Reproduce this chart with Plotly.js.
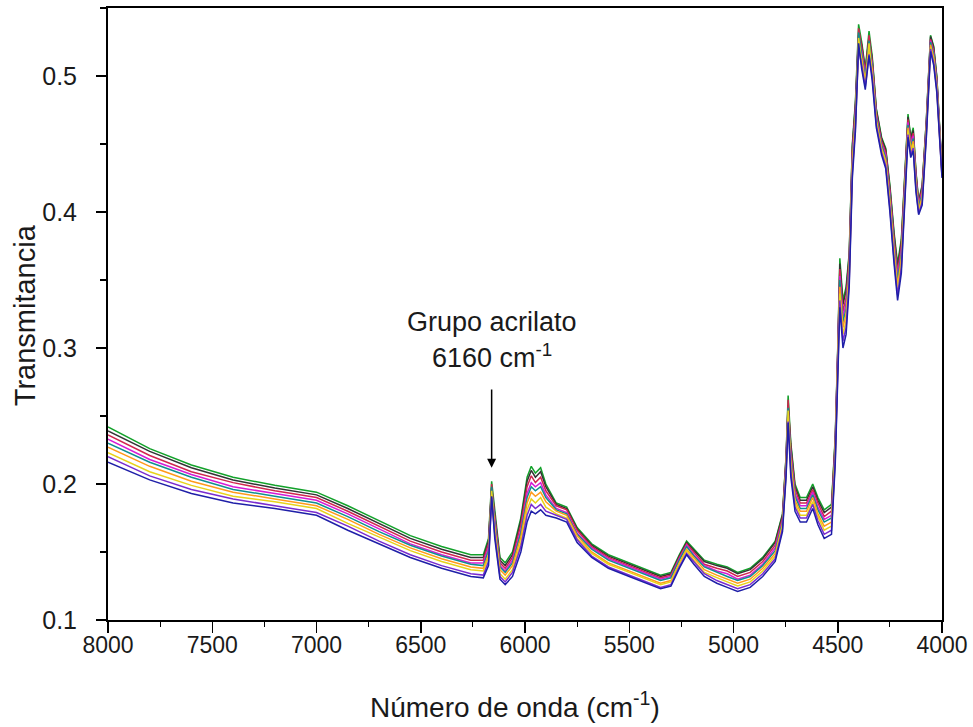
<!DOCTYPE html>
<html>
<head>
<meta charset="utf-8">
<script src="https://cdn.plot.ly/plotly-3.0.1.min.js"></script>
<style>html,body{margin:0;padding:0;background:#fff;}#chart{width:973px;height:727px;}</style>
</head>
<body>
<div id="chart"></div>
<script>
// Wavenumber (cm^-1) shared by all spectra
const wavenumber = [8000,7800,7600,7400,7200,7000,6850,6700,6550,6400,
  6260,6200,6175,6160,6145,6120,6095,6060,6020,5990,
  5970,5950,5925,5900,5850,5800,5750,5680,5600,5500,
  5420,5350,5300,5260,5225,5190,5140,5080,5030,4980,
  4920,4860,4800,4765,4748,4738,4725,4705,4680,4650,
  4620,4595,4565,4530,4512,4500,4490,4475,4460,4445,
  4430,4415,4400,4385,4368,4350,4335,4315,4290,4270,
  4250,4230,4213,4195,4175,4163,4150,4138,4125,4112,
  4095,4075,4055,4040,4025,4010,4000];

const spectrum1 = [.242,.226,.214,.205,.199,.194,.184,.173,.162,.154,
  .148,.148,.160,.202,.180,.146,.142,.150,.175,.205,
  .213,.208,.212,.200,.186,.183,.168,.156,.148,.142,
  .137,.133,.135,.148,.158,.152,.144,.141,.139,.135,
  .138,.146,.158,.178,.220,.265,.230,.200,.190,.190,
  .200,.190,.181,.185,.235,.300,.366,.335,.345,.370,
  .450,.482,.538,.525,.505,.533,.515,.476,.455,.447,
  .420,.385,.362,.380,.440,.472,.455,.462,.430,.408,
  .420,.468,.530,.522,.500,.455,.432];
const spectrum2 = [.239,.224,.212,.203,.197,.192,.182,.171,.160,.152,
  .146,.146,.158,.197,.178,.144,.140,.148,.173,.202,
  .210,.205,.209,.198,.185,.182,.167,.155,.147,.141,
  .136,.132,.134,.147,.157,.151,.143,.140,.138,.134,
  .137,.145,.157,.177,.219,.258,.228,.198,.188,.188,
  .198,.188,.179,.183,.233,.298,.362,.332,.342,.368,
  .448,.480,.530,.523,.504,.528,.513,.475,.454,.446,
  .418,.383,.359,.378,.438,.470,.454,.460,.429,.407,
  .419,.467,.529,.521,.499,.454,.431];
const spectrum3 = [.236,.221,.209,.201,.195,.190,.180,.169,.158,.150,
  .144,.144,.156,.200,.176,.142,.138,.146,.170,.198,
  .206,.201,.205,.195,.184,.181,.166,.154,.146,.140,
  .135,.131,.133,.146,.156,.150,.141,.138,.136,.132,
  .135,.143,.155,.175,.217,.262,.225,.196,.186,.186,
  .196,.186,.176,.180,.231,.296,.358,.327,.337,.365,
  .445,.477,.535,.521,.502,.530,.511,.473,.452,.444,
  .416,.380,.356,.375,.436,.468,.452,.458,.427,.406,
  .417,.465,.527,.519,.497,.453,.430];
const spectrum4 = [.233,.218,.207,.198,.193,.188,.178,.167,.156,.148,
  .142,.142,.153,.194,.173,.140,.136,.144,.166,.193,
  .201,.198,.201,.192,.182,.179,.164,.153,.145,.139,
  .134,.130,.132,.145,.155,.148,.140,.136,.134,.130,
  .133,.141,.153,.173,.215,.252,.221,.193,.184,.184,
  .194,.183,.174,.177,.228,.293,.353,.323,.333,.361,
  .441,.474,.526,.518,.500,.522,.509,.471,.450,.442,
  .413,.377,.353,.371,.433,.466,.450,.456,.425,.405,
  .415,.463,.526,.517,.496,.452,.430];
const spectrum5 = [.230,.216,.205,.196,.191,.186,.176,.165,.155,.147,
  .141,.140,.151,.198,.171,.139,.135,.142,.164,.190,
  .198,.195,.198,.190,.181,.178,.163,.152,.144,.138,
  .133,.129,.131,.144,.154,.147,.139,.135,.132,.129,
  .132,.140,.151,.172,.213,.256,.219,.191,.182,.182,
  .192,.181,.172,.175,.226,.291,.350,.319,.329,.359,
  .439,.472,.532,.516,.498,.526,.507,.470,.449,.440,
  .411,.375,.350,.369,.431,.464,.448,.454,.423,.404,
  .413,.462,.525,.516,.495,.451,.429];
const spectrum6 = [.227,.213,.202,.194,.189,.184,.174,.163,.153,.145,
  .139,.138,.148,.192,.168,.137,.133,.140,.161,.186,
  .194,.191,.194,.187,.180,.177,.162,.150,.142,.136,
  .131,.127,.129,.142,.152,.146,.137,.133,.130,.127,
  .130,.138,.149,.170,.211,.248,.216,.188,.180,.180,
  .190,.178,.169,.172,.223,.288,.345,.315,.325,.356,
  .436,.469,.522,.513,.496,.518,.505,.468,.447,.438,
  .408,.372,.346,.366,.428,.462,.446,.452,.421,.402,
  .411,.460,.523,.514,.493,.449,.428];
const spectrum7 = [.223,.209,.199,.191,.187,.182,.171,.161,.151,.143,
  .137,.136,.146,.195,.166,.134,.130,.137,.157,.181,
  .189,.186,.190,.183,.178,.175,.160,.149,.141,.135,
  .130,.126,.128,.141,.151,.144,.135,.131,.128,.125,
  .128,.136,.147,.169,.209,.254,.212,.186,.177,.177,
  .187,.176,.166,.169,.221,.286,.340,.310,.320,.352,
  .432,.466,.528,.511,.494,.524,.502,.466,.446,.436,
  .406,.368,.343,.362,.426,.460,.444,.450,.419,.401,
  .409,.459,.521,.512,.491,.448,.427];
const spectrum8 = [.220,.206,.196,.189,.184,.179,.169,.158,.148,.140,
  .134,.133,.143,.190,.163,.132,.128,.135,.154,.177,
  .185,.182,.185,.180,.177,.174,.159,.147,.139,.133,
  .128,.124,.126,.139,.149,.143,.134,.129,.126,.123,
  .126,.134,.145,.167,.207,.246,.209,.183,.175,.175,
  .185,.173,.163,.166,.218,.283,.335,.305,.315,.349,
  .429,.463,.520,.508,.492,.516,.500,.464,.444,.434,
  .403,.365,.339,.359,.423,.457,.442,.447,.417,.399,
  .407,.457,.520,.510,.490,.446,.426];
const spectrum9 = [.216,.203,.193,.186,.182,.177,.166,.156,.146,.138,
  .132,.131,.140,.191,.160,.130,.126,.132,.150,.172,
  .180,.178,.181,.177,.175,.172,.157,.146,.138,.132,
  .127,.123,.125,.138,.148,.141,.132,.127,.124,.121,
  .124,.132,.143,.165,.205,.245,.205,.180,.172,.172,
  .182,.170,.160,.163,.215,.280,.330,.300,.310,.345,
  .425,.460,.524,.505,.490,.515,.497,.462,.442,.432,
  .400,.362,.335,.355,.420,.455,.440,.445,.415,.398,
  .405,.455,.518,.508,.488,.445,.425];

const spectra = [spectrum1,spectrum2,spectrum3,spectrum4,spectrum5,spectrum6,spectrum7,spectrum8,spectrum9];
const colors = ['#12a12a','#333333','#d0264f','#d61bd6','#0f8f8f','#ff9a1a','#e8d21a','#7a2ccf','#1f1fa8'];

const xTickVals = [8000,7500,7000,6500,6000,5500,5000,4500,4000];
const yTickVals = [0.1,0.2,0.3,0.4,0.5];

const traces = spectra.map((ys, i) => ({
  type: 'scatter', mode: 'lines', x: wavenumber, y: ys,
  line: {color: colors[i], width: 1.5}, showlegend: false, hoverinfo: 'skip'
}));
// empty trace that only carries the tick overlay axis
traces.push({type: 'scatter', mode: 'lines', x: [], y: [], xaxis: 'x2', yaxis: 'y', showlegend: false, hoverinfo: 'skip'});

const FONT = 'Liberation Sans, Arial, sans-serif';

const layout = {
  width: 973, height: 727,
  margin: {l: 108, r: 31, t: 8, b: 107},
  paper_bgcolor: '#fff', plot_bgcolor: '#fff',
  font: {family: FONT, color: '#1a1a1a', size: 22},
  xaxis: {
    range: [8000, 4000], tickvals: xTickVals, ticktext: xTickVals.map(String),
    showgrid: false, zeroline: false, showline: true, linecolor: '#000', linewidth: 2, mirror: true,
    ticks: 'outside', ticklen: 3, tickwidth: 1.5, tickcolor: '#000',
    tickfont: {size: 23, family: FONT},
    automargin: false
  },
  xaxis2: {
    overlaying: 'x', anchor: 'y', side: 'bottom',
    range: [8000, 4000], tickvals: xTickVals, showticklabels: false,
    showgrid: false, zeroline: false, showline: false,
    ticks: 'outside', ticklen: 12, tickwidth: 1.5, tickcolor: '#000',
    minor: {dtick: 250, tick0: 4000, ticks: 'outside', ticklen: 6, tickwidth: 1.2, tickcolor: '#000', showgrid: false},
    automargin: false
  },
  yaxis: {
    range: [0.1, 0.55], tickvals: yTickVals, ticktext: yTickVals.map(v => v.toFixed(1)),
    showgrid: false, zeroline: false, showline: true, linecolor: '#000', linewidth: 2, mirror: true,
    ticks: 'outside', ticklen: 10, tickwidth: 1.5, tickcolor: '#000',
    minor: {dtick: 0.05, tick0: 0.1, ticks: 'outside', ticklen: 6, tickwidth: 1.2, tickcolor: '#000', showgrid: false},
    tickfont: {size: 25, family: FONT},
    ticklabelstandoff: 14,
    automargin: false
  },
  annotations: [
    // axis titles
    {xref: 'paper', yref: 'paper', x: -0.0995, y: 0.498, text: 'Transmitancia', textangle: -90,
     showarrow: false, xanchor: 'center', yanchor: 'middle', font: {size: 29, family: FONT, color: '#1a1a1a'}},
    {xref: 'paper', yref: 'paper', x: 0.488, y: -0.139, text: 'Número de onda (cm<sup>-1</sup>)',
     showarrow: false, xanchor: 'center', yanchor: 'middle', font: {size: 28, family: FONT, color: '#1a1a1a'}},
    // acrylate band marker
    {x: 6160, y: 0.212, ax: 6160, ay: 0.2705, xref: 'x', yref: 'y', axref: 'x', ayref: 'y',
     text: '', showarrow: true, arrowhead: 2, arrowsize: 1.2, arrowwidth: 1.5, arrowcolor: '#000', standoff: 0},
    {x: 6160, y: 0.319, xref: 'x', yref: 'y', text: 'Grupo acrilato', showarrow: false,
     font: {size: 27, family: FONT, color: '#1a1a1a'}, xanchor: 'center', yanchor: 'middle'},
    {x: 6160, y: 0.294, xref: 'x', yref: 'y', text: '6160 cm<sup>-1</sup>', showarrow: false,
     font: {size: 27, family: FONT, color: '#1a1a1a'}, xanchor: 'center', yanchor: 'middle'}
  ]
};

Plotly.newPlot('chart', traces, layout, {displayModeBar: false, staticPlot: true});
</script>
</body>
</html>
